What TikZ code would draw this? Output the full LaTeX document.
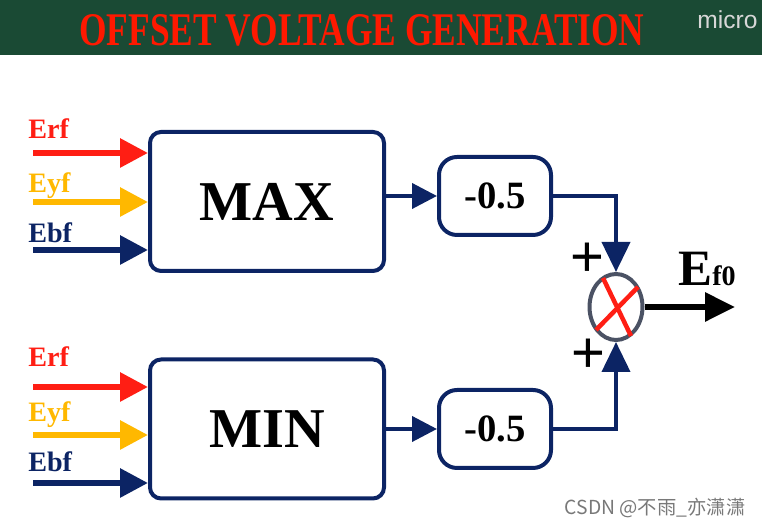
\documentclass[tikz,border=0pt]{standalone}
\usepackage{fontspec}
\usepackage{graphicx}
\setmainfont{Liberation Serif}
\newfontfamily\cjkfont{Noto Sans CJK SC}
\newfontfamily\uisans{Liberation Sans}
\usetikzlibrary{arrows.meta,positioning,calc,shapes.geometric}
\definecolor{hdrgreen}{RGB}{26,74,52}
\definecolor{titlered}{RGB}{255,25,0}
\definecolor{sigred}{RGB}{255,30,20}
\definecolor{sigyellow}{RGB}{255,184,0}
\definecolor{navy}{RGB}{12,36,100}
\definecolor{ringgray}{RGB}{75,82,100}
\definecolor{wmgray}{RGB}{120,120,120}
\definecolor{microgray}{RGB}{215,215,215}

\begin{document}
\begin{tikzpicture}[
  blk/.style={draw=navy, line width=0.08cm, rounded corners=0.22cm, minimum width=4.68cm, minimum height=2.78cm, font=\fontsize{32}{32}\selectfont\bfseries},
  gain/.style={draw=navy, line width=0.08cm, rounded corners=0.36cm, minimum width=2.24cm, minimum height=1.56cm, font=\fontsize{22}{22}\selectfont\bfseries},
  lbl/.style={anchor=base west, inner sep=0pt, font=\fontsize{16}{16}\selectfont\bfseries},
  inarr/.style={line width=0.12cm, -{Triangle[length=0.56cm, width=0.56cm]}},
  garr/.style={navy, line width=0.08cm, -{Triangle[length=0.5cm, width=0.5cm]}},
  sarr/.style={navy, line width=0.08cm, -{Triangle[length=0.6cm, width=0.56cm]}},
  sgn/.style={font=\uisans\fontsize{33}{33}\selectfont, inner sep=0pt}
]
\useasboundingbox (0,0) rectangle (15.24,10.52);
\fill[hdrgreen] (0,9.42) rectangle (15.24,10.52);

\node[text=titlered] (title) at (7.24,9.92) {\resizebox{11.3cm}{0.62cm}{\bfseries OFFSET VOLTAGE GENERATION}};
\node[anchor=west, text=microgray, font=\uisans\fontsize{14}{14}\selectfont, inner sep=0pt] (micro) at (13.94,10.12) {micro};

% blocks
\node[blk] (maxbox) at (5.34,6.49) {MAX};
\node[blk] (minbox) at (5.34,1.94) {MIN};
\node[gain] (gaintop) at (9.9,6.6) {-0.5};
\node[gain] (gainbot) at (9.9,1.94) {-0.5};
\node[ellipse, draw=ringgray, line width=0.08cm, minimum width=1.06cm, minimum height=1.32cm, inner sep=0pt] (sum) at (12.32,4.38) {};
\draw[sigred, line width=0.09cm] ([shift={(-0.26,0.58)}]sum.center) -- ([shift={(0.3,-0.58)}]sum.center);
\draw[sigred, line width=0.09cm] ([shift={(0.44,0.4)}]sum.center) -- ([shift={(-0.4,-0.46)}]sum.center);

% inputs
\coordinate (rin1) at (0.66,7.46);
\coordinate (yin1) at (0.66,6.48);
\coordinate (bin1) at (0.66,5.52);
\coordinate (rin2) at (0.66,2.78);
\coordinate (yin2) at (0.66,1.82);
\coordinate (bin2) at (0.66,0.86);
\node[lbl, text=sigred] (rlbl1) at (0.56,7.74) {Erf};
\node[lbl, text=sigyellow] (ylbl1) at (0.56,6.66) {Eyf};
\node[lbl, text=navy] (blbl1) at (0.56,5.66) {Ebf};
\node[lbl, text=sigred] (rlbl2) at (0.56,3.18) {Erf};
\node[lbl, text=sigyellow] (ylbl2) at (0.56,2.08) {Eyf};
\node[lbl, text=navy] (blbl2) at (0.56,1.08) {Ebf};
\draw[inarr, sigred] (rin1) -- (rin1 -| maxbox.west);
\draw[inarr, sigyellow] (yin1) -- (yin1 -| maxbox.west);
\draw[inarr, navy] (bin1) -- (bin1 -| maxbox.west);
\draw[inarr, sigred] (rin2) -- (rin2 -| minbox.west);
\draw[inarr, sigyellow] (yin2) -- (yin2 -| minbox.west);
\draw[inarr, navy] (bin2) -- (bin2 -| minbox.west);

% gains and sum
\draw[garr] (maxbox.east |- gaintop.west) -- (gaintop.west);
\draw[garr] (minbox.east |- gainbot.west) -- (gainbot.west);
\draw[sarr] (gaintop.east) -| (sum.north);
\draw[sarr] (gainbot.east) -| (sum.south);
\node[sgn] (plustop) at (11.74,5.32) {+};
\node[sgn] (plusbot) at (11.76,3.4) {+};

% output
\coordinate (out) at (14.7,4.38);
\draw[line width=0.12cm, -{Triangle[length=0.6cm, width=0.56cm]}] (sum.east) -- (out);
\node[anchor=base west, inner sep=0pt, font=\fontsize{29}{29}\selectfont\bfseries] (eflbl) at (13.56,4.8) {E{\fontsize{16}{16}\selectfont f0}};

\node[text=wmgray, font=\cjkfont\fontsize{11}{11}\selectfont] (wm) at (13.1,0.36) {CSDN @不雨\_亦潇潇};
\end{tikzpicture}
\end{document}
